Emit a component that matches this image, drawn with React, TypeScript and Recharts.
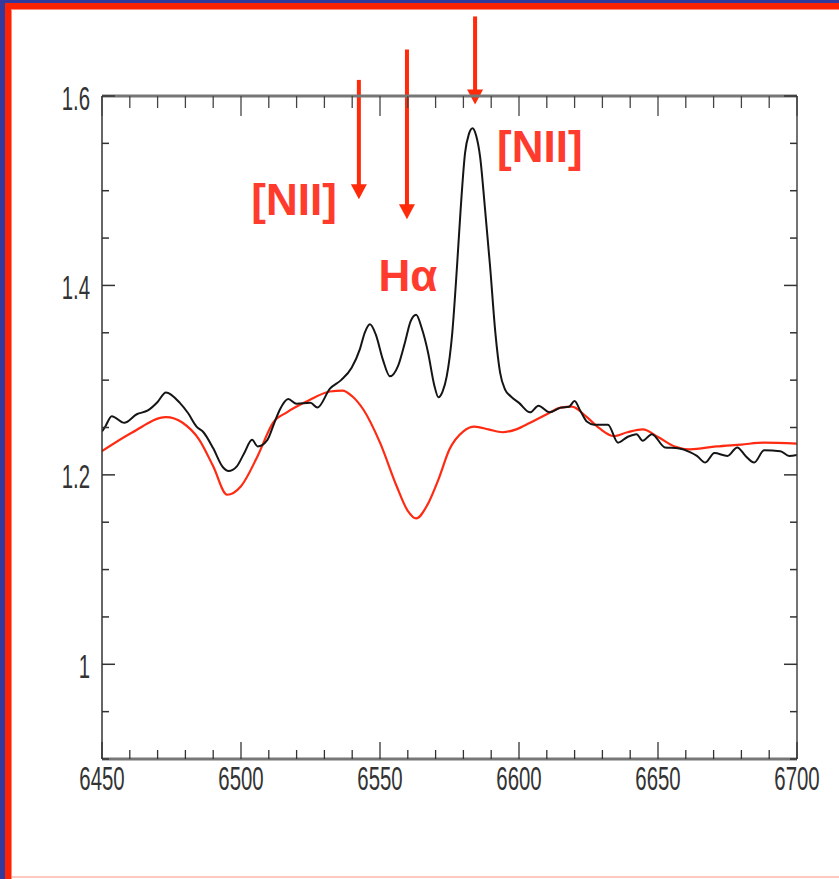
import React from "react";
import { LineChart, Line, XAxis, YAxis, ReferenceLine } from "recharts";

// wavelength (Angstrom) and flux of the observed spectrum (black)
const obsWave = [
  6450, 6451, 6453.5, 6458, 6462.5, 6466.5, 6470, 6473, 6478, 6481, 6484, 6486.5, 6490, 6493.5,
  6495.5, 6498.5, 6501, 6504, 6506, 6509.5, 6512, 6514, 6517, 6520, 6525, 6527.5, 6532, 6536,
  6539.8, 6542.8, 6544.5, 6546.4, 6548.5, 6551, 6553.6, 6556.5, 6559, 6561, 6563, 6565, 6567.3,
  6569.5, 6571, 6572.5, 6574, 6576, 6577.7, 6579, 6580.6, 6582, 6583.3, 6584.6, 6586, 6587.8,
  6589.6, 6591.5, 6593.2, 6595, 6597, 6600, 6604, 6607, 6611, 6615, 6618, 6620, 6622, 6624.5,
  6627, 6632, 6635.6, 6639, 6642.3, 6644.5, 6647.8, 6652.5, 6657.2, 6661.5, 6664, 6667, 6670.3,
  6675, 6678.5, 6681.5, 6684.6, 6688.2, 6694, 6697.2, 6700,
];
const obsFlux = [
  1.246, 1.25, 1.262, 1.255, 1.264, 1.268, 1.277, 1.287, 1.276, 1.265, 1.251, 1.245, 1.228, 1.208,
  1.204, 1.209, 1.222, 1.237, 1.23, 1.237, 1.255, 1.269, 1.28, 1.275, 1.276, 1.271, 1.291, 1.3,
  1.313, 1.333, 1.35, 1.359, 1.348, 1.322, 1.304, 1.315, 1.34, 1.362, 1.369, 1.355, 1.329,
  1.295, 1.282, 1.288, 1.304, 1.35, 1.42, 1.48, 1.54, 1.56, 1.566, 1.558, 1.536, 1.48,
  1.42, 1.35, 1.308, 1.29, 1.283, 1.276, 1.266, 1.273, 1.266, 1.271, 1.272, 1.278, 1.268, 1.256,
  1.253, 1.253, 1.234, 1.24, 1.243, 1.236, 1.243, 1.229, 1.228, 1.224, 1.22, 1.213, 1.223,
  1.22, 1.229, 1.22, 1.213, 1.226, 1.225, 1.22, 1.221,
];

// template / model spectrum (red)
const modelWave = [
  6450, 6461, 6473, 6479, 6485, 6490, 6495, 6500, 6506, 6511.5, 6516.5, 6524, 6532, 6536.5, 6540,
  6544, 6550, 6556, 6560, 6563, 6567, 6571, 6575, 6580, 6584, 6589, 6594, 6599, 6604, 6610, 6615,
  6619, 6624, 6629, 6634, 6639, 6644.5, 6650, 6656, 6661.5, 6671, 6680, 6688, 6700,
];
const modelFlux = [
  1.225, 1.245, 1.261, 1.255, 1.237, 1.209, 1.179, 1.188, 1.22, 1.255, 1.266, 1.278, 1.288, 1.289, 1.283,
  1.269, 1.234, 1.188, 1.162, 1.154, 1.168, 1.195, 1.227, 1.246, 1.251, 1.248, 1.245, 1.248, 1.255, 1.264, 1.271,
  1.272, 1.262, 1.249, 1.241, 1.245, 1.248, 1.24, 1.23, 1.227, 1.23, 1.232, 1.234, 1.233,
];

const xMajor = [6450, 6500, 6550, 6600, 6650, 6700];
const yMajor = [1, 1.2, 1.4, 1.6];

// line annotations: [wavelength, arrow top, arrow tip]
const lineMarks = [
  { name: "[NII]", wave: 6542.4, top: 1.617, tip: 1.491 },
  { name: "H\u03b1", wave: 6559.7, top: 1.649, tip: 1.47 },
  { name: "[NII]", wave: 6584.2, top: 1.684, tip: 1.591 },
];

const obsData = obsWave.map((w, i) => ({ wave: w, flux: obsFlux[i] }));
const modelData = modelWave.map((w, i) => ({ wave: w, flux: modelFlux[i] }));

const xTicks: number[] = [];
for (let v = 6450; v <= 6700; v += 10) xTicks.push(v);
const yTicks: number[] = [];
for (let v = 0.9; v <= 1.601; v += 0.05) yTicks.push(Math.round(v * 100) / 100);

const isMajorX = (v: number) => xMajor.includes(v);
const isMajorY = (v: number) => yMajor.some((m) => Math.abs(m - v) < 1e-6);

const labelFont = "'Liberation Sans', Arial, sans-serif";

// narrow, tall tick labels like the original plot
function NarrowText({ x, y, anchor, children }: any) {
  return (
    <text
      transform={`translate(${x},${y}) scale(0.6,1)`}
      textAnchor={anchor}
      dominantBaseline="central"
      fontFamily={labelFont}
      fontSize={34}
      fill="#333"
    >
      {children}
    </text>
  );
}

function BottomTick(props: any) {
  const { x, y, payload } = props;
  const major = isMajorX(payload.value);
  return (
    <g>
      <line x1={x} x2={x} y1={y} y2={y - (major ? 17 : 9)} stroke="#333" strokeWidth={1.3} />
      {major && <NarrowText x={x} y={y + 19} anchor="middle">{String(payload.value)}</NarrowText>}
    </g>
  );
}

function TopTick(props: any) {
  const { x, y, payload } = props;
  const major = isMajorX(payload.value);
  return <line x1={x} x2={x} y1={y} y2={y + (major ? 20 : 12)} stroke="#444" strokeWidth={1.3} />;
}

function LeftTick(props: any) {
  const { x, y, payload } = props;
  const major = isMajorY(payload.value);
  return (
    <g>
      <line x1={x} x2={x + (major ? 13 : 7)} y1={y} y2={y} stroke="#333" strokeWidth={1.5} />
      {major && <NarrowText x={x - 12} y={y + 2} anchor="end">{String(payload.value)}</NarrowText>}
    </g>
  );
}

function RightTick(props: any) {
  const { x, y, payload } = props;
  const major = isMajorY(payload.value);
  return <line x1={x} x2={x - (major ? 13 : 7)} y1={y} y2={y} stroke="#333" strokeWidth={1.5} />;
}

const annoRed = "#ff2a0a";
const annoText = "#ff3b2e";

function makeArrow(i: number) {
  return (p: any) => {
    const { x1, y1, x2, y2 } = p;
    let label: React.ReactNode = null;
    const common = {
      fontFamily: "'Liberation Sans', Arial, sans-serif",
      fontWeight: 700,
      fontSize: 44,
      fill: annoText,
    };
    if (i === 0) label = <text x={x2 - 22} y={y2 + 16} textAnchor="end" {...common}>{lineMarks[i].name}</text>;
    if (i === 1) label = <text x={x2 + 1} y={y2 + 72} textAnchor="middle" {...common}>{lineMarks[i].name}</text>;
    if (i === 2) label = <text x={x2 + 22} y={y2 + 57} textAnchor="start" {...common}>{lineMarks[i].name}</text>;
    return (
      <g>
        <line x1={x1} y1={y1} x2={x2} y2={y2 - 10} stroke={annoRed} strokeWidth={4} />
        <polygon points={`${x2 - 8},${y2 - 15} ${x2 + 8},${y2 - 15} ${x2},${y2}`} fill={annoRed} />
        {label}
      </g>
    );
  };
}

export default function App() {
  return (
    <div style={{ position: "absolute", left: 0, top: 0, width: 839, height: 879, background: "#fff", overflow: "hidden" }}>
      <div style={{ position: "absolute", left: 0, top: 0, width: 839, height: 3, background: "#343a9c" }} />
      <div style={{ position: "absolute", left: 0, top: 0, width: 5, height: 879, background: "#343a9c" }} />
      <div style={{ position: "absolute", left: 5, top: 3, width: 834, height: 6, background: "#ff2200" }} />
      <div style={{ position: "absolute", left: 5, top: 3, width: 6, height: 876, background: "#ff2200" }} />
      <div style={{ position: "absolute", left: 11, top: 9, width: 828, height: 1, background: "#ff8b78" }} />
      <div style={{ position: "absolute", left: 11, top: 9, width: 1, height: 870, background: "#ff8b78" }} />
      <div style={{ position: "absolute", left: 12, top: 876, width: 827, height: 2, background: "#ffc8c0" }} />
      <div style={{ position: "absolute", left: 0, top: 0 }}>
        <LineChart width={839} height={879} margin={{ top: 95, right: 41, bottom: 90, left: 42 }}>
          <XAxis
            dataKey="wave"
            type="number"
            domain={[6450, 6700]}
            allowDataOverflow
            ticks={xTicks}
            interval={0}
            tickSize={0}
            tickMargin={0}
            tick={<BottomTick />}
            axisLine={{ stroke: "#777", strokeWidth: 3 }}
            height={30}
          />
          <XAxis
            xAxisId="top"
            orientation="top"
            dataKey="wave"
            type="number"
            domain={[6450, 6700]}
            allowDataOverflow
            ticks={xTicks}
            interval={0}
            tickSize={0}
            tickMargin={0}
            tick={<TopTick />}
            axisLine={{ stroke: "#777", strokeWidth: 3 }}
            height={1}
          />
          <YAxis
            type="number"
            domain={[0.9, 1.6]}
            allowDataOverflow
            ticks={yTicks}
            interval={0}
            tickSize={0}
            tickMargin={0}
            tick={<LeftTick />}
            axisLine={{ stroke: "#333", strokeWidth: 1.5 }}
            width={60}
          />
          <YAxis
            yAxisId="right"
            orientation="right"
            type="number"
            domain={[0.9, 1.6]}
            allowDataOverflow
            ticks={yTicks}
            interval={0}
            tickSize={0}
            tickMargin={0}
            tick={<RightTick />}
            axisLine={{ stroke: "#444", strokeWidth: 1.5 }}
            width={1}
          />
          <Line
            data={modelData}
            dataKey="flux"
            type="monotone"
            stroke="#ff2a12"
            strokeWidth={2.2}
            dot={false}
            isAnimationActive={false}
          />
          <Line
            data={obsData}
            dataKey="flux"
            type="monotone"
            stroke="#151515"
            strokeWidth={2}
            dot={false}
            isAnimationActive={false}
          />
          {lineMarks.map((m, i) => (
            <ReferenceLine
              key={i}
              segment={[
                { x: m.wave, y: m.top },
                { x: m.wave, y: m.tip },
              ]}
              ifOverflow="visible"
              shape={makeArrow(i)}
            />
          ))}
        </LineChart>
      </div>
    </div>
  );
}
